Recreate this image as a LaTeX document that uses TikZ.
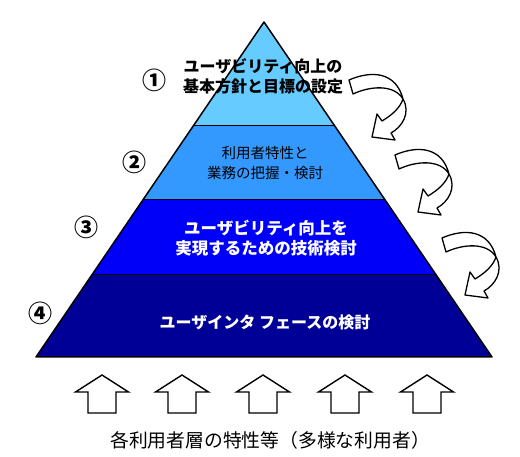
\documentclass[tikz,border=0pt]{standalone}
\usepackage{fontspec}
\newfontfamily\jp{Noto Sans CJK JP}
\usetikzlibrary{calc}
\definecolor{bandA}{RGB}{102,204,255}
\definecolor{bandB}{RGB}{51,153,255}
\definecolor{bandC}{RGB}{0,0,250}
\definecolor{bandD}{RGB}{0,0,150}
\tikzset{
  bandtext/.style={align=center, inner sep=0pt},
  numtext/.style={inner sep=0pt, font=\jp\bfseries\fontsize{24}{26}\selectfont},
  hollowarrow/.style={draw=black, fill=white, line width=1.4pt, line join=miter},
  curvarrow/.style={draw=black, fill=white, line width=1.3pt, line join=round}
}
\begin{document}
\begin{tikzpicture}[x=1pt,y=-1pt]
\useasboundingbox (0,0) rectangle (520,457);
% pyramid
\coordinate (apex) at (264,22);
\coordinate (bl) at (36,357);
\coordinate (br) at (492,357);
\coordinate (l1) at ($(apex)!0.3075!(bl)$);
\coordinate (r1) at ($(apex)!0.3075!(br)$);
\coordinate (l2) at ($(apex)!0.5313!(bl)$);
\coordinate (r2) at ($(apex)!0.5313!(br)$);
\coordinate (l3) at ($(apex)!0.7552!(bl)$);
\coordinate (r3) at ($(apex)!0.7552!(br)$);
\fill[bandA] (apex) -- (l1) -- (r1) -- cycle;
\fill[bandB] (l1) -- (l2) -- (r2) -- (r1) -- cycle;
\fill[bandC] (l2) -- (l3) -- (r3) -- (r2) -- cycle;
\fill[bandD] (l3) -- (bl) -- (br) -- (r3) -- cycle;
\draw[line width=1pt] (l1) -- (r1) (l2) -- (r2) (l3) -- (r3);
\draw[line width=1.5pt, line join=round] (apex) -- (bl) -- (br) -- cycle;
% band texts
\node[bandtext, font=\jp\bfseries\fontsize{16}{20}\selectfont] (s1) at (263,76) {ユーザビリティ向上の\\基本方針と目標の設定};
\node[bandtext, font=\jp\fontsize{14.5}{20}\selectfont] (s2) at (265,163) {利用者特性と\\業務の把握・検討};
\node[bandtext, text=white, font=\jp\bfseries\fontsize{16.5}{20}\selectfont] (s3) at (266,238) {ユーザビリティ向上を\\実現するための技術検討};
\node[bandtext, text=white, font=\jp\bfseries\fontsize{16}{20}\selectfont] (s4) at (265,322) {ユーザインタ フェースの検討};
% numbers
\node[numtext] (n1) at (154,80) {①};
\node[numtext] (n2) at (134,162) {②};
\node[numtext] (n3) at (86,227) {③};
\node[numtext] (n4) at (40,313) {④};
% curved arrows
\foreach \dx/\dy in {0/0, 46/75, 93/158} {
  \begin{scope}[shift={(\dx,\dy)}]
    \draw[curvarrow] (349,80) .. controls (372,70) and (396,72) .. (403,99)
      .. controls (411,113) and (402,127) .. (391,133) -- (395,140) -- (372,137)
      -- (377,114) -- (382,121) .. controls (392,115) and (400,108) .. (403,99)
      .. controls (394,84) and (370,86) .. (353,94) -- cycle;
  \end{scope}
}
% bottom arrows
\foreach \x in {102,182,263,345,427} {
  \draw[hollowarrow] (\x,375) -- (\x+26.5,392) -- (\x+14,392) -- (\x+14,413)
    -- (\x-14,413) -- (\x-14,392) -- (\x-26.5,392) -- cycle;
}
\node[inner sep=0pt, font=\jp\fontsize{18.8}{20}\selectfont] (base) at (270,440) {各利用者層の特性等（多様な利用者）};
\end{tikzpicture}
\end{document}
